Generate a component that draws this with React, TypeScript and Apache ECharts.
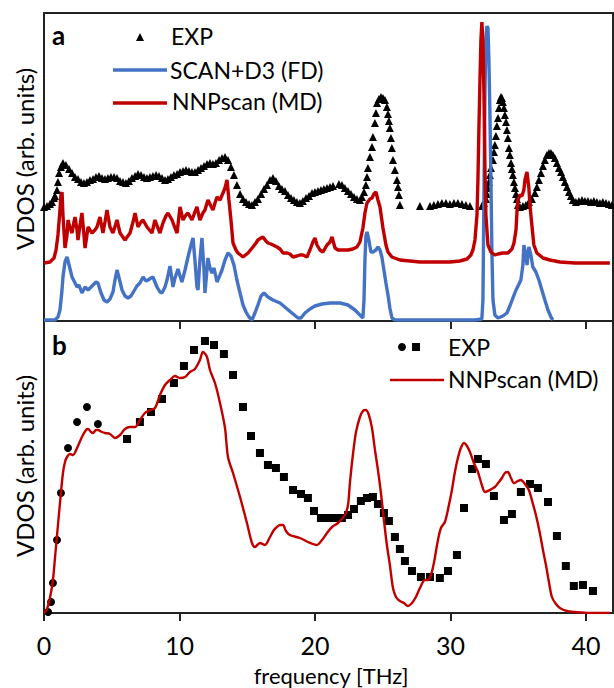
import React, { useEffect, useRef } from "react";
import * as echarts from "echarts";

// frequency [THz], VDOS (arb. units)
const freqTicks = [0, 10, 20, 30, 40];

const expA: number[][] = [
  [0.0,114],[0.22,115],[0.44,117],[0.59,119],[0.74,123],[0.81,125],[0.96,131],[1.03,139],[1.11,148],[1.25,154],
  [1.40,158],[1.62,156],[1.85,152],[2.07,148],[2.29,144],[2.51,142],[2.73,139],[2.95,138],[3.17,139],[3.39,141],
  [3.62,142],[3.84,144],[4.06,145],[4.28,143],[4.50,142],[4.72,143],[4.94,144],[5.17,144],[5.39,143],[5.61,140],
  [5.83,139],[6.05,138],[6.27,140],[6.49,143],[6.72,145],[6.94,147],[7.16,146],[7.38,144],[7.60,143],[7.82,144],
  [8.04,145],[8.27,146],[8.49,145],[8.71,143],[8.93,141],[9.15,142],[9.37,144],[9.59,146],[9.82,147],[10.04,149],
  [10.26,150],[10.48,151],[10.70,150],[10.92,149],[11.14,149],[11.37,151],[11.59,153],[11.81,155],[12.03,157],[12.25,158],
  [12.47,157],[12.69,158],[12.92,161],[13.14,163],[13.36,164],[13.58,161],[13.80,154],[14.02,146],[14.24,136],[14.47,127],
  [14.69,122],[14.91,119],[15.13,117],[15.35,116],[15.57,119],[15.79,122],[16.02,127],[16.24,132],[16.46,136],[16.68,141],
  [16.90,143],[17.12,140],[17.34,135],[17.56,132],[17.79,130],[18.01,126],[18.23,123],[18.45,121],[18.67,119],[18.89,118],
  [19.11,120],[19.34,123],[19.56,125],[19.78,128],[20.0,129],[20.22,130],[20.44,131],[20.66,132],[20.89,133],[21.11,134],
  [21.33,135],[21.77,137],[21.99,136],[22.21,133],[22.44,130],[22.66,127],[22.88,124],[23.10,122],[23.32,121],[23.47,124],
  [23.62,129],[23.76,136],[23.84,144],[23.91,153],[24.06,164],[24.21,174],[24.28,184],[24.43,198],[24.50,208],[24.58,218],
  [24.72,222],[24.87,224],[25.02,223],[25.17,221],[25.31,214],[25.39,207],[25.46,200],[25.53,193],[25.61,183],[25.68,173],
  [25.76,161],[25.90,151],[26.05,141],[26.13,134],[26.20,126],[26.27,116],
  [27.75,115],[28.49,115],[28.78,116],[29.08,117],[29.37,118],[29.67,118],[29.96,117],[30.26,118],[30.55,118],[30.85,117],
  [31.14,116],[31.44,115],
  [32.32,115],[32.47,118],[32.62,122],[32.69,127],[32.77,133],[32.84,139],[32.91,146],[32.99,153],[33.14,161],[33.21,169],
  [33.28,176],[33.36,185],[33.43,195],[33.51,203],[33.58,213],[33.65,221],[33.73,224],[33.80,223],[33.87,219],[33.95,213],
  [34.02,206],[34.10,199],[34.17,191],[34.24,183],[34.32,173],[34.39,166],[34.47,158],[34.54,152],[34.61,146],[34.69,139],
  [34.76,133],[34.84,127],[34.91,122],[34.98,116],[35.13,114],[35.35,115],[35.57,116],[35.79,119],[36.01,122],[36.24,128],
  [36.38,134],[36.53,141],[36.68,148],[36.83,155],[36.97,161],[37.12,166],[37.27,168],[37.42,168],[37.56,166],[37.71,163],
  [37.86,158],[38.01,153],[38.16,149],[38.30,144],[38.45,139],[38.60,134],[38.75,129],[38.89,125],[39.04,121],[39.26,119],
  [39.48,120],[39.71,121],[39.93,120],[40.15,120],[40.37,119],[40.59,120],[40.81,119],[41.03,118],[41.25,119],[41.48,118],
  [41.70,117],[41.92,116]
];

const scanA: number[][] = [
  [0,1],[0.81,1],[1.03,4],[1.18,11],[1.33,31],[1.40,44],[1.55,59],[1.70,64],[1.85,56],[2.07,44],
  [2.29,38],[2.44,34],[2.58,36],[2.80,28],[3.03,34],[3.25,31],[3.47,34],[3.62,36],[3.84,39],[3.98,38],
  [4.21,28],[4.43,21],[4.65,19],[4.87,22],[5.09,29],[5.24,41],[5.39,51],[5.54,43],[5.76,31],[5.98,25],
  [6.20,23],[6.42,25],[6.64,30],[6.86,35],[7.08,38],[7.31,44],[7.53,40],[7.68,41],[7.90,43],[8.04,44],
  [8.19,39],[8.34,34],[8.56,29],[8.71,28],[8.93,34],[9.08,41],[9.30,55],[9.45,41],[9.52,34],[9.67,43],
  [9.89,52],[10.04,45],[10.18,39],[10.41,51],[10.63,64],[10.85,76],[11.00,83],[11.14,61],[11.29,34],[11.37,31],
  [11.51,61],[11.66,83],[11.81,51],[11.88,28],[12.03,51],[12.10,63],[12.25,53],[12.40,48],[12.55,53],[12.77,39],
  [12.99,46],[13.14,51],[13.36,61],[13.58,68],[13.80,65],[14.02,56],[14.24,41],[14.47,28],[14.69,16],[14.91,9],
  [15.13,4],[15.35,1],[15.57,8],[15.79,16],[16.02,25],[16.24,28],[16.53,24],[16.90,21],[17.42,18],[17.86,13],
  [18.30,8],[18.75,3],[18.97,3],[19.26,8],[19.63,12],[20.0,15],[20.52,17],[21.11,18],[21.85,18],[22.44,16],
  [22.95,11],[23.32,6],[23.54,3],[23.62,21],[23.69,61],[23.76,85],[23.84,89],[23.98,81],[24.13,69],[24.28,69],
  [24.50,71],[24.65,74],[24.80,71],[24.94,64],[25.09,51],[25.24,38],[25.39,26],[25.53,13],[25.68,3],[25.90,1],
  [27.75,1],[29.96,1],[31.81,1],[32.32,2],[32.40,21],[32.47,121],[32.55,231],[32.62,281],[32.69,295],[32.77,293],
  [32.84,261],[32.91,211],[32.99,141],[33.06,71],[33.14,21],[33.28,6],[33.51,3],[33.87,5],[34.17,8],[34.39,15],
  [34.61,23],[34.84,31],[35.06,37],[35.20,41],[35.35,56],[35.42,76],[35.57,66],[35.65,56],[35.79,74],[35.94,66],
  [36.08,54],[36.31,49],[36.53,41],[36.75,31],[36.97,21],[37.20,11],[37.42,4],[37.56,1]
];

const nnpA: number[][] = [
  [0,58],[0.44,59],[0.74,63],[0.89,71],[1.03,86],[1.18,111],[1.25,126],[1.33,129],[1.40,106],[1.55,73],
  [1.70,86],[1.77,101],[1.92,93],[2.07,88],[2.21,99],[2.29,104],[2.44,91],[2.51,81],[2.66,96],[2.80,108],
  [2.95,86],[3.03,73],[3.17,86],[3.25,94],[3.39,91],[3.54,88],[3.76,91],[3.91,94],[4.13,104],[4.35,88],
  [4.50,99],[4.65,111],[4.87,94],[5.09,88],[5.39,101],[5.61,88],[5.98,81],[6.35,88],[6.57,99],[6.72,108],
  [6.94,94],[7.16,99],[7.31,101],[7.60,94],[7.97,88],[8.19,101],[8.41,93],[8.56,88],[8.78,98],[9.00,105],
  [9.15,108],[9.45,101],[9.67,93],[9.82,88],[10.04,114],[10.26,101],[10.48,106],[10.63,108],[10.92,101],[11.14,109],
  [11.29,114],[11.51,101],[11.73,108],[11.88,111],[12.10,121],[12.32,115],[12.47,111],[12.62,118],[12.77,124],[12.99,121],
  [13.21,128],[13.36,133],[13.51,141],[13.65,121],[13.80,101],[13.95,78],[14.17,71],[14.32,68],[14.69,64],[15.06,68],
  [15.42,74],[15.65,78],[15.79,81],[16.02,83],[16.16,84],[16.38,80],[16.53,78],[16.75,77],[16.90,76],[17.20,74],
  [17.42,72],[17.64,68],[17.93,68],[18.15,67],[18.38,64],[18.67,65],[18.89,66],[19.11,66],[19.41,64],[19.63,71],
  [19.85,79],[20.0,83],[20.15,76],[20.37,71],[20.59,69],[20.89,76],[21.11,79],[21.26,84],[21.48,73],[21.70,71],
  [22.07,71],[22.44,71],[22.80,72],[23.10,74],[23.32,79],[23.54,93],[23.69,108],[23.84,118],[24.06,122],[24.21,123],
  [24.35,127],[24.50,129],[24.65,121],[24.80,114],[25.02,93],[25.24,76],[25.39,69],[25.68,64],[26.27,61],[27.01,60],
  [27.75,59],[28.71,59],[29.96,59],[30.70,60],[31.22,62],[31.51,66],[31.66,71],[31.81,81],[31.96,106],[32.03,141],
  [32.10,191],[32.18,241],[32.25,281],[32.32,299],[32.40,281],[32.47,231],[32.55,151],[32.62,106],[32.77,76],[32.99,69],
  [33.28,66],[33.51,67],[33.87,68],[34.24,68],[34.54,72],[34.69,78],[34.84,91],[34.91,109],[34.98,121],[35.13,126],
  [35.28,125],[35.42,131],[35.50,141],[35.65,149],[35.79,133],[35.87,116],[36.01,96],[36.16,76],[36.38,68],[36.83,63],
  [37.34,61],[38.08,59],[39.19,58],[40.30,58],[41.77,58]
];

const expCircB: number[][] = [
  [0.3,1],[0.52,11],[0.66,30],[0.96,73],[1.25,120],[1.77,165],[2.44,191],[3.17,206],[3.98,189]
];

const expSqB: number[][] = [
  [6.13,174],[7.08,191],[7.90,201],[8.71,214],[9.59,230],[10.33,247],[11.07,263],[11.88,272],[12.55,268],[13.28,259],
  [13.95,238],[14.69,206],[15.28,177],[15.94,160],[16.53,148],[17.12,145],[17.71,136],[18.38,123],[18.97,119],[19.48,115],
  [19.93,102],[20.44,95],[20.96,95],[21.48,95],[21.99,95],[22.44,98],[22.88,104],[23.39,112],[23.84,115],[24.28,116],
  [24.65,109],[25.09,100],[25.46,92],[25.90,76],[26.27,64],[26.64,52],[27.16,42],[27.82,36],[28.49,36],[29.22,35],
  [29.82,42],[30.48,58],[31.0,105],[31.59,144],[32.03,154],[32.62,149],[33.21,117],[33.95,93],[34.54,99],[35.20,121],
  [35.87,129],[36.46,125],[37.20,111],[37.86,77],[38.52,47],[39.11,27],[39.78,28],[40.52,22]
];

const nnpB: number[][] = [
  [0,0],[0.22,4],[0.44,15],[0.66,33],[0.81,55],[1.03,88],[1.18,110],[1.40,140],[1.55,151],[1.70,156],
  [1.92,159],[2.14,158],[2.44,165],[2.80,176],[3.10,183],[3.25,184],[3.47,181],[3.62,180],[3.84,183],[3.98,183],
  [4.28,181],[4.50,180],[4.87,179],[5.24,175],[5.61,178],[5.98,184],[6.35,186],[6.72,186],[7.08,193],[7.45,200],
  [7.82,203],[8.19,205],[8.56,218],[8.93,228],[9.30,233],[9.67,237],[10.04,235],[10.41,236],[10.77,241],[11.14,244],
  [11.51,253],[11.73,261],[12.03,256],[12.25,243],[12.62,230],[12.99,210],[13.36,185],[13.58,156],[13.95,140],[14.47,116],
  [14.98,90],[15.35,70],[15.57,66],[15.94,70],[16.31,68],[16.68,76],[16.97,83],[17.20,86],[17.42,88],[17.64,88],
  [17.86,82],[18.15,78],[18.89,75],[19.48,71],[20.15,68],[20.52,73],[20.89,80],[21.26,86],[21.70,90],[22.21,98],
  [22.44,108],[22.58,130],[22.80,158],[23.03,181],[23.32,196],[23.54,202],[23.76,203],[23.98,198],[24.21,185],[24.43,163],
  [24.65,143],[24.87,120],[25.09,93],[25.31,68],[25.53,48],[25.76,25],[25.98,16],[26.27,12],[26.57,10],[26.86,7],
  [27.16,10],[27.45,16],[27.75,25],[28.12,33],[28.34,33],[28.56,38],[28.78,50],[29.08,73],[29.30,85],[29.59,91],
  [29.89,108],[30.11,123],[30.33,141],[30.55,155],[30.77,165],[31.0,170],[31.22,167],[31.44,161],[31.73,150],[32.03,141],
  [32.32,128],[32.55,121],[32.91,123],[33.28,126],[33.58,131],[33.80,135],[34.02,140],[34.24,141],[34.47,135],[34.69,130],
  [34.98,132],[35.20,133],[35.50,129],[35.79,123],[36.01,113],[36.31,98],[36.60,80],[36.83,63],[37.05,48],[37.27,31],
  [37.49,16],[37.79,9],[38.08,5],[38.60,2],[39.19,1],[40.30,0],[41.77,0]
];

const labelsA = ["EXP", "SCAN+D3 (FD)", "NNPscan (MD)"];
const labelsB = ["EXP", "NNPscan (MD)"];
const yTitle = "VDOS (arb. units)";
const xTitle = "frequency [THz]";

const FONT = "Lato";
const BLUE = "#4472C4";
const RED = "#C00000";
const FRAME = "#222";

export default function App() {
  const ref = useRef<HTMLDivElement>(null);
  useEffect(() => {
    if (!ref.current) return;
    const chart = echarts.init(ref.current, undefined, { renderer: "svg" });
    const txt = (text: string, x: number, y: number, size: number, extra: any = {}, weight = "normal") => ({
      type: "text",
      x,
      y,
      ...extra,
      style: { text, fontSize: size, fontFamily: FONT, fontWeight: weight, fill: "#000", align: "left", verticalAlign: "middle", ...(extra.style || {}) },
    });
    chart.setOption({
      animation: false,
      backgroundColor: "#fff",
      grid: [
        { left: 44, top: 13, width: 569, height: 308, show: true, borderColor: FRAME, borderWidth: 2, backgroundColor: "transparent" },
        { left: 44, top: 321, width: 569, height: 292, show: true, borderColor: FRAME, borderWidth: 2, backgroundColor: "transparent" },
      ],
      xAxis: [
        { type: "value", gridIndex: 0, min: 0, max: 42, interval: 10, show: false },
        {
          type: "value", gridIndex: 1, min: 0, max: 42, interval: 10, position: "bottom",
          axisLine: { show: false },
          axisTick: { show: true, inside: false, length: 8, lineStyle: { color: FRAME, width: 2 } },
          splitLine: { show: false },
          axisLabel: {
            show: true, margin: 19, fontSize: 25, fontFamily: FONT, color: "#000", showMaxLabel: false,
            formatter: (v: number) => (freqTicks.includes(v) ? String(v) : ""),
          },
        },
        {
          type: "value", gridIndex: 1, min: 0, max: 42, interval: 10, position: "top",
          axisLine: { show: false },
          axisTick: { show: true, inside: true, length: 8, lineStyle: { color: FRAME, width: 2 } },
          splitLine: { show: false },
          axisLabel: { show: false },
        },
      ],
      yAxis: [
        { type: "value", gridIndex: 0, min: 0, max: 308, show: false },
        { type: "value", gridIndex: 1, min: 0, max: 292, show: false },
      ],
      series: [
        { type: "line", xAxisIndex: 0, yAxisIndex: 0, data: scanA, showSymbol: false, lineStyle: { color: BLUE, width: 3.4 }, itemStyle: { color: BLUE } },
        { type: "line", xAxisIndex: 0, yAxisIndex: 0, data: nnpA, showSymbol: false, lineStyle: { color: RED, width: 3.4 }, itemStyle: { color: RED } },
        { type: "scatter", xAxisIndex: 0, yAxisIndex: 0, data: expA, symbol: "triangle", symbolSize: 8, itemStyle: { color: "#000", opacity: 1 } },
        { type: "line", xAxisIndex: 1, yAxisIndex: 1, data: nnpB, showSymbol: false, smooth: 0.3, lineStyle: { color: RED, width: 2.4 }, itemStyle: { color: RED } },
        { type: "scatter", xAxisIndex: 1, yAxisIndex: 1, data: expCircB, symbol: "circle", symbolSize: 8, itemStyle: { color: "#000", opacity: 1 } },
        { type: "scatter", xAxisIndex: 1, yAxisIndex: 1, data: expSqB, symbol: "rect", symbolSize: 8, itemStyle: { color: "#000", opacity: 1 } },
      ],
      graphic: [
        txt("a", 52, 35, 26, {}, "bold"),
        txt("b", 52, 345, 26, {}, "bold"),
        { type: "polygon", shape: { points: [[136, 41], [144, 41], [140, 33]] }, style: { fill: "#000" } },
        txt(labelsA[0], 171, 36, 23),
        { type: "line", shape: { x1: 113, y1: 70, x2: 167, y2: 70 }, style: { stroke: BLUE, lineWidth: 3.4 } },
        txt(labelsA[1], 170, 70, 23),
        { type: "line", shape: { x1: 113, y1: 103, x2: 167, y2: 103 }, style: { stroke: RED, lineWidth: 3.4 } },
        txt(labelsA[2], 172, 101, 23),
        { type: "circle", shape: { cx: 402, cy: 347, r: 4 }, style: { fill: "#000" } },
        { type: "rect", shape: { x: 412, y: 343, width: 8, height: 8 }, style: { fill: "#000" } },
        txt(labelsB[0], 448, 347, 23),
        { type: "line", shape: { x1: 390, y1: 380, x2: 444, y2: 380 }, style: { stroke: RED, lineWidth: 2.5 } },
        txt(labelsB[1], 448, 379, 23),
        txt(yTitle, 24, 159, 24, { rotation: Math.PI / 2, style: { align: "center" } }),
        txt(yTitle, 24, 466, 24, { rotation: Math.PI / 2, style: { align: "center" } }),
        txt(xTitle, 331, 675, 22, { style: { align: "center" } }),
      ],
    });
    return () => chart.dispose();
  }, []);
  return <div ref={ref} style={{ position: "absolute", left: 0, top: 0, width: 614, height: 688, background: "#fff" }} />;
}
